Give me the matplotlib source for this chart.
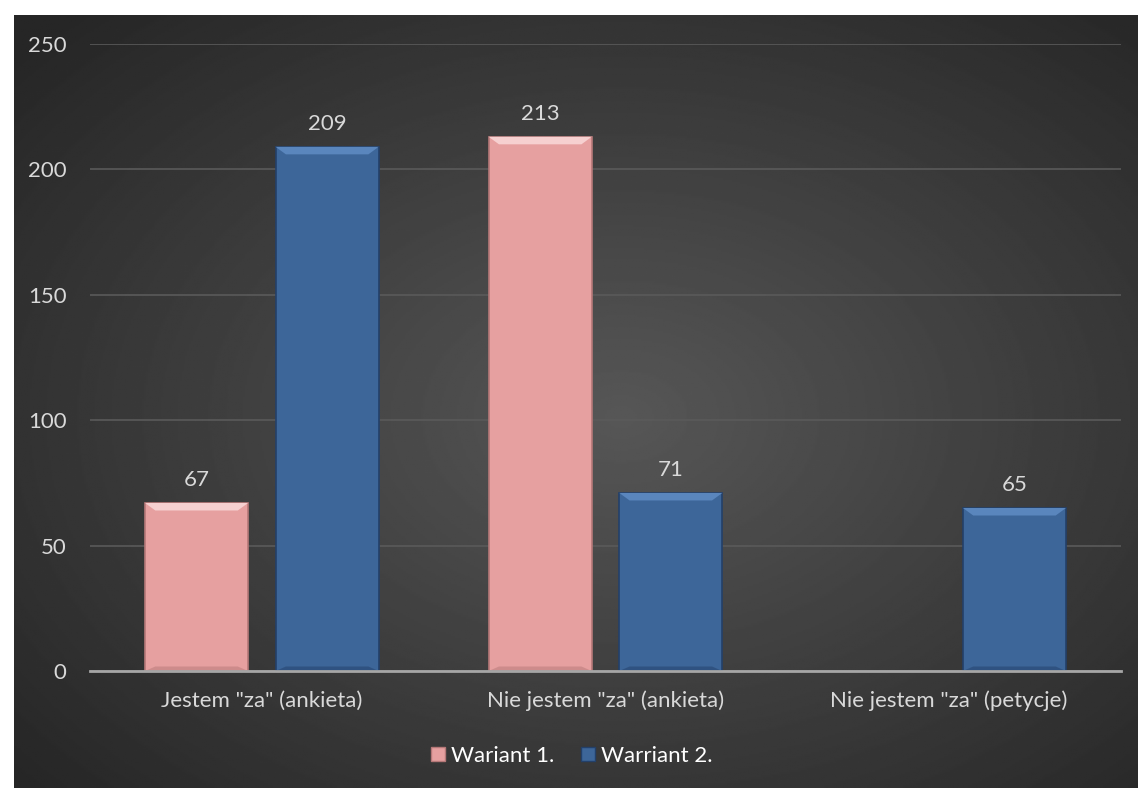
import numpy as np
import matplotlib.pyplot as plt
from matplotlib.patches import Rectangle, Polygon

categories = ['Jestem "za" (ankieta)', 'Nie jestem "za" (ankieta)', 'Nie jestem "za" (petycje)']
wariant_1 = [67, 213, 0]
wariant_2 = [209, 71, 65]
series_names = ["Wariant 1.", "Warriant 2."]
y_ticks = [0, 50, 100, 150, 200, 250]

PINK = "#e6a0a0"
BLUE = "#3d6699"
TEXT = "#d9d9d9"
FS = 16

plt.rcParams["font.family"] = ["Lato", "DejaVu Sans"]

W, H = 1138, 788
fig = plt.figure(figsize=(W / 100, H / 100), dpi=100, facecolor="white")

# dark radial gradient background
bg = fig.add_axes([14 / W, 0, (W - 14) / W, (H - 15) / H])
bg.set_axis_off()
yy, xx = np.mgrid[0:1:400j, 0:1:600j]
r = np.sqrt(((xx - 0.54) / 0.75) ** 2 + ((yy - 0.52) / 0.75) ** 2)
shade = np.clip(0.34 - 0.2 * r, 0.15, 0.34)
bg.imshow(shade, cmap="gray", vmin=0, vmax=1, aspect="auto", extent=[0, 1, 0, 1])
bg.set_zorder(0)

ax = fig.add_axes([90 / W, (H - 671) / H, (1121 - 90) / W, (671 - 44) / H])
ax.set_zorder(1)
ax.patch.set_alpha(0)

x = np.arange(len(categories))
width = 0.30
offset = 0.19


def draw_bars(xs, vals, color, dark, light):
    for xc, v in zip(xs, vals):
        if v <= 0:
            continue
        left = xc - width / 2
        ax.add_patch(Rectangle((left, 0), width, v, facecolor=color,
                               edgecolor=dark, linewidth=1.2, zorder=3))
        # bevel on top and bottom
        d = 3.0
        dx = 0.03
        ax.add_patch(Polygon([(left, v), (left + width, v),
                              (left + width - dx, v - d), (left + dx, v - d)],
                             closed=True, facecolor=light, edgecolor="none", zorder=4))
        ax.add_patch(Polygon([(left, 0), (left + width, 0),
                              (left + width - dx, d * 0.6), (left + dx, d * 0.6)],
                             closed=True, facecolor=dark, edgecolor="none", alpha=0.5, zorder=4))
        ax.text(xc, v + 5, str(v), ha="center", va="bottom", color=TEXT,
                fontsize=FS, zorder=5)


draw_bars(x - offset, wariant_1, PINK, "#b57878", "#f6d0d0")
draw_bars(x + offset, wariant_2, BLUE, "#23406a", "#5a86bd")

ax.set_xlim(-0.5, len(categories) - 0.5)
ax.set_ylim(0, 250)
ax.set_yticks(y_ticks)
ax.set_yticklabels([str(t) for t in y_ticks])
ax.set_xticks(x)
ax.set_xticklabels(categories)
ax.tick_params(axis="both", length=0, colors=TEXT, labelsize=FS)
ax.tick_params(axis="y", pad=17)
ax.tick_params(axis="x", pad=14)
ax.yaxis.grid(True, color="#5a5a5a", linewidth=1.2)
ax.set_axisbelow(True)
for s in ["top", "right", "left"]:
    ax.spines[s].set_visible(False)
ax.spines["bottom"].set_color("#a6a6a6")
ax.spines["bottom"].set_linewidth(2)
ax.spines["bottom"].set_zorder(6)

handles = [Rectangle((0, 0), 1, 1, facecolor=PINK, edgecolor="#b57878"),
           Rectangle((0, 0), 1, 1, facecolor=BLUE, edgecolor="#23406a")]
leg = fig.legend(handles, series_names, loc="center", bbox_to_anchor=(572 / W, 1 - 756 / H),
                 ncol=2, frameon=False, fontsize=FS, handlelength=0.6, handleheight=0.6,
                 handletextpad=0.3, columnspacing=1.2)
for t in leg.get_texts():
    t.set_color("white")

fig.savefig("out.png", dpi=100, facecolor="white")
